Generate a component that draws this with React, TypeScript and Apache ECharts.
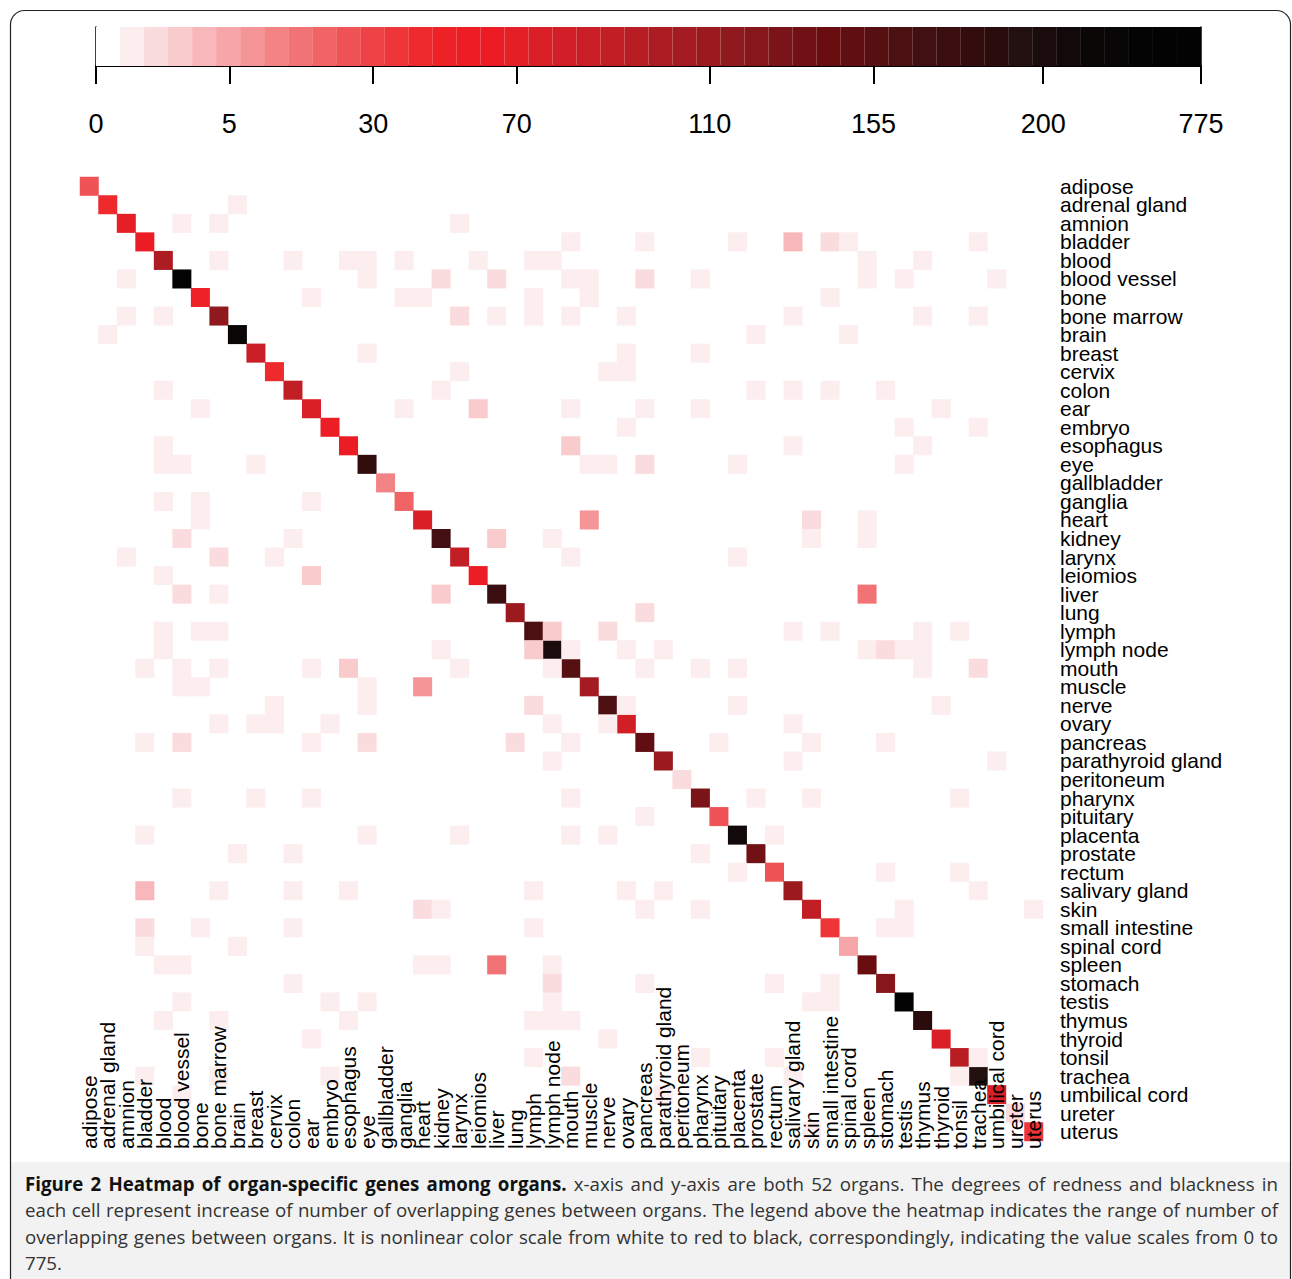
import React, { useEffect, useRef } from "react";
import * as echarts from "echarts";

const organs = [
  "adipose", "adrenal gland", "amnion", "bladder", "blood", "blood vessel", "bone", "bone marrow",
  "brain", "breast", "cervix", "colon", "ear", "embryo", "esophagus", "eye", "gallbladder", "ganglia",
  "heart", "kidney", "larynx", "leiomios", "liver", "lung", "lymph", "lymph node", "mouth", "muscle",
  "nerve", "ovary", "pancreas", "parathyroid gland", "peritoneum", "pharynx", "pituitary", "placenta",
  "prostate", "rectum", "salivary gland", "skin", "small intestine", "spinal cord", "spleen", "stomach",
  "testis", "thymus", "thyroid", "tonsil", "trachea", "umbilical cord", "ureter", "uterus",
];

// genes specific to each organ (diagonal cells)
const diagonalCounts = [
  25, 42, 68, 64, 99, 560, 48, 116, 380, 85, 42, 90, 75, 56, 60, 181, 13, 21, 77, 168, 92, 56, 175, 110,
  162, 206, 156, 105, 160, 80, 151, 108, 2, 130, 25, 295, 134, 24, 112, 88, 36, 5, 143, 123, 775, 188,
  74, 97, 194, 73, 2, 34,
];

// overlapping genes between two organs: [row organ, column organ, count] (matrix is symmetric)
const sharedCounts: [number, number, number][] = [
  [5, 2, 1], [7, 2, 1], [7, 4, 1], [8, 1, 1], [11, 4, 1], [12, 6, 1], [14, 4, 1], [15, 4, 1], [15, 5, 1],
  [15, 9, 1], [17, 4, 1], [17, 6, 1], [17, 12, 1],
  [18, 6, 1], [19, 5, 2], [19, 11, 1], [20, 2, 1], [20, 7, 2], [20, 10, 1], [21, 4, 1], [21, 12, 3],
  [22, 5, 2], [22, 7, 1], [24, 4, 1], [24, 6, 1], [24, 7, 1], [25, 4, 1], [26, 3, 1], [26, 5, 1],
  [26, 7, 1], [26, 12, 1], [26, 14, 3], [27, 5, 1], [27, 6, 1], [27, 15, 1], [28, 10, 1], [28, 15, 1],
  [29, 7, 1], [29, 9, 1], [29, 10, 1], [29, 13, 1], [30, 3, 1], [30, 5, 2], [30, 12, 1], [30, 15, 2],
  [33, 5, 1], [33, 9, 1], [33, 12, 1], [35, 3, 1], [35, 15, 1],
  [22, 19, 3], [25, 19, 1], [25, 24, 3], [26, 20, 1], [26, 25, 1], [27, 18, 9], [28, 24, 2], [29, 25, 1],
  [29, 28, 1], [30, 23, 2], [30, 26, 1], [31, 25, 1], [33, 26, 1], [34, 30, 1], [35, 20, 1], [35, 26, 1],
  [35, 28, 1],
  [36, 8, 1], [36, 11, 1], [38, 3, 4], [38, 7, 1], [38, 11, 1], [38, 14, 1], [40, 3, 2], [40, 6, 1],
  [40, 11, 1], [41, 3, 1], [41, 8, 1], [42, 4, 1], [42, 5, 1], [43, 11, 1], [44, 5, 1], [44, 13, 1],
  [44, 15, 1], [45, 4, 1], [45, 7, 1], [45, 14, 1], [46, 12, 1], [48, 3, 1], [48, 7, 1], [48, 13, 1],
  [49, 5, 1],
  [36, 33, 1], [37, 35, 1], [38, 24, 1], [38, 29, 1], [38, 31, 1], [39, 18, 2], [39, 19, 1], [39, 30, 1],
  [39, 33, 1], [40, 24, 1], [42, 18, 1], [42, 19, 1], [42, 22, 17], [42, 25, 1], [43, 25, 2], [43, 30, 1],
  [44, 25, 1], [45, 24, 1], [45, 25, 1], [45, 26, 1], [46, 28, 1], [47, 24, 1], [47, 33, 1], [48, 26, 2],
  [49, 31, 1],
  [43, 37, 1], [43, 40, 1], [44, 39, 1], [44, 40, 1], [47, 37, 1], [48, 38, 1], [48, 47, 1], [51, 39, 1],
];

// legend tick labels and their positions along the colour ramp (in colour steps)
const legendTickValues = [0, 5, 30, 70, 110, 155, 200, 775];
const legendTickPositions = [0, 5.55, 11.54, 17.52, 25.55, 32.37, 39.43, 46];

const legendColors = [
  "#FFFFFF", "#FCEDEE", "#FBDCDE", "#F9CBCD", "#F8B8BB", "#F6A6A9", "#F59597", "#F38486", "#F27375",
  "#F06466", "#EF5356", "#EE4346", "#EE3537", "#EE2A2C", "#EE2226", "#ED1D25", "#EC1C24", "#E41F26",
  "#DB1F26", "#D21F27", "#CA1E26", "#C21E26", "#B81D24", "#AE1C23", "#A41B21", "#9A1A1F", "#8F191D",
  "#85171B", "#7B1418", "#711115", "#6A0D10", "#600E11", "#561012", "#4C1013", "#420F12", "#3A0E10",
  "#330C0E", "#2B0C0D", "#231010", "#1A0C0C", "#120A0A", "#0C0707", "#080606", "#050404", "#040303",
  "#030303",
];

const captionBold = "Figure 2 Heatmap of organ-specific genes among organs.";
const captionLines = [
  "x-axis and y-axis are both 52 organs. The degrees of redness and blackness in",
  "each cell represent increase of number of overlapping genes between organs. The legend above the heatmap indicates the range of number of",
  "overlapping genes between organs. It is nonlinear color scale from white to red to black, correspondingly, indicating the value scales from 0 to",
  "775.",
];

function positionToValue(p: number): number {
  for (let i = 0; i < legendTickPositions.length - 1; i++) {
    const a = legendTickPositions[i];
    const b = legendTickPositions[i + 1];
    if (p >= a && p <= b) {
      return legendTickValues[i] + ((p - a) / (b - a)) * (legendTickValues[i + 1] - legendTickValues[i]);
    }
  }
  return legendTickValues[legendTickValues.length - 1];
}

const colorPieces = legendColors.map((color, k) => {
  const lo = positionToValue(k);
  const hi = positionToValue(k + 1);
  return k === legendColors.length - 1 ? { gte: lo, lte: hi + 1, color } : { gte: lo, lt: hi, color };
});

const heatData: number[][] = [
  ...diagonalCounts.map((v, i) => [i, i, v]),
  ...sharedCounts.flatMap(([r, c, v]) => [
    [c, r, v],
    [r, c, v],
  ]),
];

const LABEL_FONT = "'Liberation Sans', Arial, Helvetica, sans-serif";
const CAPTION_FAMILY = "Open Sans";
const CAPTION_SIZE = 18.7;

function buildCaption(): any[] {
  const canvas = document.createElement("canvas");
  const ctx = canvas.getContext("2d");
  const measure = (w: string, bold: boolean) => {
    if (!ctx) return w.length * 9.6;
    ctx.font = `${bold ? "bold " : ""}${CAPTION_SIZE}px "${CAPTION_FAMILY}"`;
    return ctx.measureText(w).width;
  };
  const left = 25;
  const right = 1278;
  const ys = [1183, 1209, 1236, 1262];
  const out: any[] = [];
  const space = measure(" ", false);
  captionLines.forEach((line, li) => {
    const words: { t: string; b: boolean }[] = [];
    if (li === 0) captionBold.split(" ").forEach((t) => words.push({ t, b: true }));
    line.split(" ").forEach((t) => words.push({ t, b: false }));
    const widths = words.map((w) => measure(w.t, w.b));
    const total = widths.reduce((a, b) => a + b, 0);
    const justify = li < captionLines.length - 1 && words.length > 1;
    let gap = justify ? (right - left - total) / (words.length - 1) : space;
    if (gap < space * 0.6) gap = space * 0.6;
    let x = left;
    words.forEach((w, i) => {
      out.push({
        type: "text",
        silent: true,
        style: {
          x,
          y: ys[li],
          verticalAlign: "middle",
          text: w.t,
          fontFamily: CAPTION_FAMILY,
          fontSize: CAPTION_SIZE,
          fontWeight: w.b ? "bold" : "normal",
          fill: w.b ? "#111" : "#333",
        },
      });
      x += widths[i] + gap;
    });
  });
  return out;
}

export default function App() {
  const ref = useRef<HTMLDivElement>(null);

  useEffect(() => {
    if (!ref.current) return;
    const chart = echarts.init(ref.current, null, { renderer: "svg" });

    const option = {
      animation: false,
      backgroundColor: "#ffffff",
      grid: [
        { left: 80, top: 177, width: 963, height: 964 },
        { left: 96, top: 27, width: 1105, height: 39 },
      ],
      xAxis: [
        {
          gridIndex: 0,
          type: "category",
          data: organs,
          position: "bottom",
          offset: 9,
          z: 5,
          axisLine: { show: false },
          axisTick: { show: false },
          splitLine: { show: false },
          axisLabel: {
            inside: true,
            rotate: 90,
            interval: 0,
            margin: 1,
            hideOverlap: false,
            fontFamily: LABEL_FONT,
            fontSize: 21,
            color: "#000",
            padding: [12, 0, 0, 0],
          },
        },
        {
          gridIndex: 1,
          type: "category",
          data: legendColors.map((_, i) => i),
          position: "top",
          axisLine: { show: true, lineStyle: { color: "#9a9a9a", width: 1 } },
          axisTick: { show: false },
          axisLabel: { show: false },
          splitLine: { show: false },
        },
        {
          gridIndex: 1,
          type: "value",
          min: 0,
          max: 46,
          position: "bottom",
          axisLine: { show: true, onZero: false, lineStyle: { color: "#000", width: 2 } },
          axisTick: {
            show: true,
            customValues: legendTickPositions,
            length: 18,
            lineStyle: { color: "#000", width: 2 },
          },
          splitLine: { show: false },
          axisLabel: {
            customValues: legendTickPositions,
            margin: 44,
            fontFamily: LABEL_FONT,
            fontSize: 27,
            color: "#000",
            formatter: (val: number) => {
              const i = legendTickPositions.findIndex((p) => Math.abs(p - val) < 1e-6);
              return i >= 0 ? String(legendTickValues[i]) : "";
            },
          },
        },
      ],
      yAxis: [
        {
          gridIndex: 0,
          type: "category",
          data: organs,
          inverse: true,
          position: "right",
          z: 5,
          axisLine: { show: false },
          axisTick: { show: false },
          splitLine: { show: false },
          axisLabel: {
            interval: 0,
            margin: 17,
            hideOverlap: false,
            fontFamily: LABEL_FONT,
            fontSize: 21,
            color: "#000",
            padding: [12, 0, 0, 0],
          },
        },
        {
          gridIndex: 1,
          type: "value",
          min: 0,
          max: 1,
          position: "left",
          axisLine: { show: true, lineStyle: { color: "#000", width: 1.5 } },
          axisTick: { show: false },
          axisLabel: { show: false },
          splitLine: { show: false },
        },
        {
          gridIndex: 1,
          type: "value",
          min: 0,
          max: 1,
          position: "right",
          axisLine: { show: true, lineStyle: { color: "#000", width: 1.5 } },
          axisTick: { show: false },
          axisLabel: { show: false },
          splitLine: { show: false },
        },
      ],
      visualMap: {
        type: "piecewise",
        show: false,
        seriesIndex: 0,
        dimension: 2,
        pieces: colorPieces,
      },
      series: [
        {
          type: "heatmap",
          xAxisIndex: 0,
          yAxisIndex: 0,
          data: heatData,
          silent: true,
          z: 2,
          itemStyle: { borderWidth: 0 },
          emphasis: { disabled: true },
          progressive: 0,
        },
        {
          type: "bar",
          xAxisIndex: 1,
          yAxisIndex: 1,
          silent: true,
          barCategoryGap: "0%",
          data: legendColors.map((c) => ({ value: 1, itemStyle: { color: c } })),
        },
      ],
      graphic: [
        {
          type: "rect",
          silent: true,
          z: -1,
          shape: { x: 10.5, y: 1162, width: 1280, height: 130 },
          style: { fill: "#f2f2f2" },
        },
        {
          type: "rect",
          silent: true,
          shape: { x: 10.5, y: 10.5, width: 1280, height: 1300, r: 14 },
          style: { fill: "none", stroke: "#222", lineWidth: 1.2 },
        },
        ...buildCaption(),
      ],
    };

    chart.setOption(option as any);
    return () => chart.dispose();
  }, []);

  return (
    <div
      ref={ref}
      style={{ position: "absolute", left: 0, top: 0, width: 1292, height: 1279 }}
    />
  );
}
